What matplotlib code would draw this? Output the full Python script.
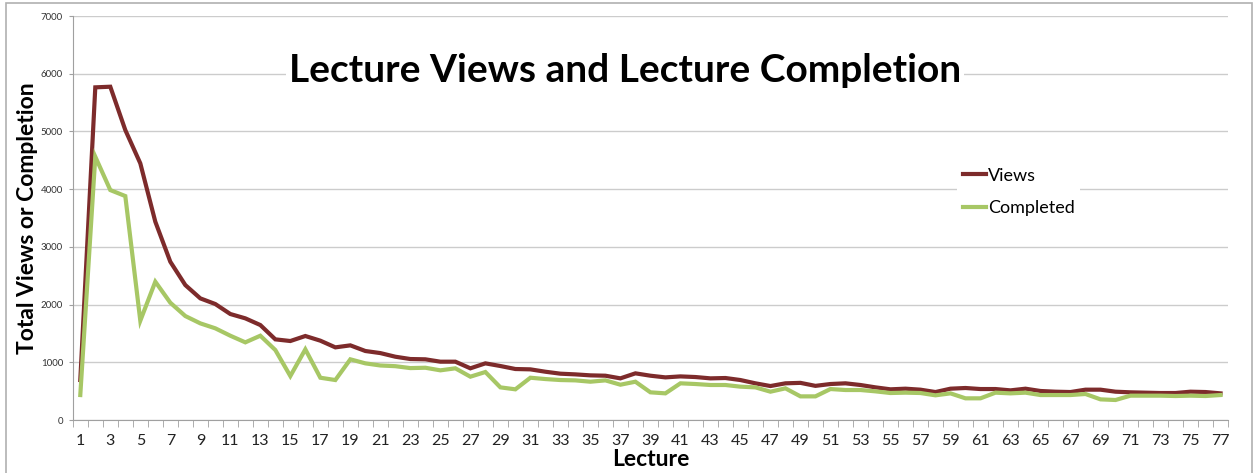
import matplotlib.pyplot as plt
import matplotlib.patches as patches
import numpy as np

plt.rcParams['font.family'] = ['Lato', 'DejaVu Sans']

lectures = np.arange(1, 78)

views = [693, 5765, 5776, 5025, 4448, 3437, 2743, 2339, 2108, 2010,
         1837, 1762, 1646, 1398, 1369, 1456, 1375, 1259, 1294, 1196,
         1160, 1097, 1057, 1052, 1011, 1011, 896, 982, 936, 884,
         878, 837, 803, 791, 774, 768, 722, 809, 768, 739,
         756, 745, 722, 728, 693, 636, 589, 636, 644, 592,
         624, 636, 607, 566, 532, 543, 526, 485, 543, 555,
         537, 537, 514, 543, 503, 491, 485, 526, 526, 491,
         480, 474, 468, 468, 491, 485, 462]

completed = [433, 4563, 3985, 3881, 1721, 2397, 2033, 1802, 1675, 1589,
             1461, 1346, 1461, 1213, 762, 1225, 733, 693, 1052, 982,
             945, 933, 900, 906, 861, 896, 751, 832, 566, 532,
             733, 710, 693, 687, 664, 687, 612, 664, 480, 462,
             636, 624, 607, 607, 578, 566, 491, 549, 410, 410,
             537, 520, 520, 497, 468, 474, 468, 428, 462, 376,
             376, 474, 462, 474, 433, 433, 433, 451, 358, 347,
             422, 422, 422, 416, 422, 416, 433]

fig = plt.figure(figsize=(12.55, 4.73), dpi=100)
ax = fig.add_axes([0.058, 0.112, 0.9205, 0.854])

# 外框
fig.patches.append(patches.Rectangle((0.005, -0.01), 0.993, 1.004, transform=fig.transFigure,
                                     fill=False, edgecolor='#b0b0b0', linewidth=1.2))

ax.plot(lectures, views, color='#7d2b2b', linewidth=3, label='Views', solid_joinstyle='miter', zorder=3)
ax.plot(lectures, completed, color='#a7c765', linewidth=3, label='Completed', solid_joinstyle='miter', zorder=3)

ax.set_xlim(0.5, 77.5)
ax.set_ylim(0, 7000)
ax.set_yticks(np.arange(0, 7001, 1000))
ax.tick_params(axis='y', labelsize=7, length=3, color='#a0a0a0', labelcolor='#333333', pad=4)
ax.set_xticks(lectures[::2])
ax.set_xticklabels([str(k) for k in lectures[::2]])
ax.set_xticks(np.arange(0.5, 78, 1), minor=True)
ax.tick_params(axis='x', which='major', length=0, labelsize=11.5, pad=10, labelcolor='#222222')
ax.tick_params(axis='x', which='minor', length=5, color='#a0a0a0')
ax.grid(axis='y', color='#cccccc', linewidth=1)
ax.set_axisbelow(True)
for s in ['top', 'right']:
    ax.spines[s].set_visible(False)
ax.spines['left'].set_color('#a0a0a0')
ax.spines['bottom'].set_color('#a0a0a0')

ax.set_xlabel('Lecture', fontsize=16.5, fontweight='bold', labelpad=1)
ax.set_ylabel('Total Views or Completion', fontsize=16.5, fontweight='bold', labelpad=2)

fig.text(0.498, 0.852, 'Lecture Views and Lecture Completion', fontsize=28, fontweight='bold',
         ha='center', va='center', bbox=dict(facecolor='white', edgecolor='none', pad=2))

leg = ax.legend(loc='center left', bbox_to_anchor=(0.758, 0.565), fontsize=13, frameon=True,
                handlelength=1.3, handletextpad=0.1, labelspacing=0.9, borderpad=0.3)
leg.get_frame().set_facecolor('white')
leg.get_frame().set_edgecolor('none')
leg.get_frame().set_alpha(1)

fig.savefig('out.png', dpi=100)
